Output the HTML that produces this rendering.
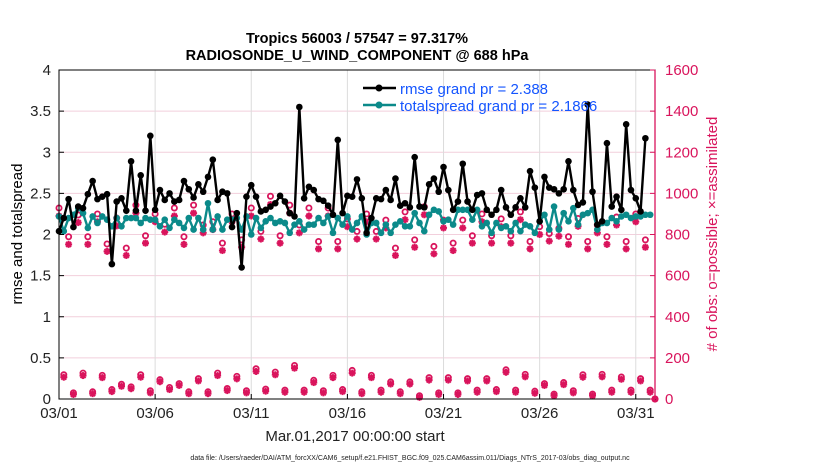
<!DOCTYPE html>
<html><head><meta charset="utf-8"><style>
body{margin:0;background:#fff;}
svg{display:block;font-family:"Liberation Sans",sans-serif;}
</style></head><body>
<svg id="chart" width="830" height="470" viewBox="0 0 830 470" xmlns="http://www.w3.org/2000/svg">
<rect width="830" height="470" fill="#fff"/>
<text x="357" y="43" font-size="14.5" font-weight="bold" text-anchor="middle">Tropics 56003 / 57547 = 97.317%</text>
<text x="357" y="60" font-size="14.5" font-weight="bold" text-anchor="middle">RADIOSONDE_U_WIND_COMPONENT @ 688 hPa</text>
<g id="grid"></g>
<g id="marks"></g>
<g id="axes"></g>
<text transform="translate(22,234) rotate(-90)" font-size="15" text-anchor="middle">rmse and totalspread</text>
<text transform="translate(717,234) rotate(-90)" font-size="15" fill="#d9145c" text-anchor="middle"># of obs: o=possible; ×=assimilated</text>
<text x="355" y="441" font-size="15" fill="#222" text-anchor="middle">Mar.01,2017 00:00:00 start</text>
<text x="410" y="460" font-size="7" fill="#222" text-anchor="middle">data file: /Users/raeder/DAI/ATM_forcXX/CAM6_setup/f.e21.FHIST_BGC.f09_025.CAM6assim.011/Diags_NTrS_2017-03/obs_diag_output.nc</text>
<g id="legend"></g>
</svg>
<script>
const xTickLabels = ["03/01","03/06","03/11","03/16","03/21","03/26","03/31"];
const xTickDays = [0,5,10,15,20,25,30];
const yLeftTicks = [0,0.5,1,1.5,2,2.5,3,3.5,4];
const yRightTicks = [0,200,400,600,800,1000,1200,1400,1600];
const rmse = [2.04,2.2,2.43,2.09,2.34,2.32,2.49,2.65,2.43,2.46,2.49,1.64,2.4,2.44,2.29,2.89,2.29,2.72,2.29,3.2,2.3,2.54,2.42,2.5,2.4,
2.42,2.65,2.55,2.45,2.61,2.52,2.7,2.91,2.42,2.52,2.5,2.09,2.26,1.6,2.46,2.6,2.46,2.28,2.3,2.34,2.38,2.47,2.4,2.26,
2.22,3.55,2.44,2.58,2.54,2.43,2.41,2.35,2.24,3.15,2.26,2.47,2.46,2.67,2.44,2.02,2.2,2.44,2.43,2.54,2.42,2.68,2.35,2.38,
2.33,2.94,2.34,2.33,2.61,2.68,2.52,2.82,2.54,2.3,2.4,2.86,2.4,2.3,2.48,2.5,2.3,2.24,2.3,2.54,2.33,2.24,2.33,2.44,
2.33,2.77,2.57,2.16,2.7,2.57,2.55,2.5,2.55,2.89,2.54,2.36,2.39,3.58,2.52,2.12,2.16,3.11,2.34,2.46,2.3,3.34,2.54,2.44,2.28,3.17];
const spread = [2.22,2.04,2.2,2.24,2.32,2.26,2.08,2.22,2.14,2.22,2.18,2.1,2.2,2.1,2.2,2.2,2.2,2.14,2.2,2.18,2.18,2.1,2.18,2.08,2.18,
2.14,2.08,2.2,2.06,2.2,2.06,2.38,2.06,2.22,2.06,2.18,2.18,2.2,2.06,2.22,2.0,2.2,2.08,2.16,2.2,2.14,2.16,2.14,2.02,
2.12,2.16,2.06,2.12,2.12,2.2,2.14,2.22,2.02,2.2,2.12,2.22,2.06,2.14,2.22,2.0,2.14,2.14,2.02,2.12,2.02,2.12,2.16,2.1,
2.1,2.26,2.14,2.04,2.24,2.3,2.28,2.16,2.18,2.12,2.3,2.3,2.3,2.18,2.3,2.1,2.14,2.02,2.14,2.08,2.1,2.04,2.14,2.04,2.12,
2.1,2.02,2.16,2.24,2.06,2.34,2.06,2.26,2.16,2.32,2.12,2.24,2.26,2.3,2.06,2.14,2.14,2.2,2.16,2.22,2.24,2.2,2.22,2.22,2.24,2.24];
const obsPossible = [929,118,789,30,895,126,789,35,900,115,754,46,880,72,734,59,943,118,794,40,900,94,850,56,929,75,
789,35,943,99,846,35,862,126,758,51,900,110,774,40,929,147,815,48,986,131,794,43,943,163,
846,43,929,91,766,40,929,115,766,46,876,139,815,35,900,115,815,43,870,83,734,35,910,83,
774,16,935,104,742,30,870,104,758,30,870,99,794,43,900,99,794,46,876,142,794,43,910,120,
766,38,838,75,805,24,830,80,789,40,878,118,766,24,846,120,789,43,885,107,766,43,900,99,774,43,0];
const obsAssim = [890,106,752,22,858,114,752,26,862,104,718,36,842,62,698,50,904,106,758,30,862,84,812,46,890,66,
752,26,904,88,808,26,824,114,722,41,862,98,738,30,890,134,778,38,946,118,758,33,904,150,
808,33,890,80,730,30,890,104,730,36,838,126,778,26,862,104,778,33,832,73,698,26,872,73,
738,8,896,92,706,22,832,92,722,22,832,88,758,33,862,88,758,36,838,130,758,33,872,108,
730,28,800,66,768,16,792,70,752,30,840,106,730,16,808,108,752,33,846,96,730,33,862,88,738,33,0];

const X0=59, X1=655, Y0=399, Y1=70, NDAYS=31;
const xDay = d => X0 + d*(X1-X0)/NDAYS;
const xIdx = i => xDay(i*0.25);
const yL = v => Y0 - v*(Y0-Y1)/4;
const yR = v => Y0 - v*(Y0-Y1)/1600;
const NS="http://www.w3.org/2000/svg";
function mk(tag, attrs, parent){const e=document.createElementNS(NS,tag);for(const k in attrs)e.setAttribute(k,attrs[k]);parent.appendChild(e);return e;}
const grid=document.getElementById('grid'), marks=document.getElementById('marks'), axes=document.getElementById('axes'), legend=document.getElementById('legend');
const RED='#d9145c', TEAL='#0b8a8a';

yLeftTicks.forEach(v=>{ if(v>0&&v<4){const l=mk('line',{x1:X0,x2:X1,y1:yL(v),y2:yL(v),stroke:'#f2cfdc','stroke-width':1},grid);

}});
xTickDays.forEach(d=>{ if(d>0){const l=mk('line',{x1:xDay(d),x2:xDay(d),y1:Y1,y2:Y0,stroke:'#dcdcdc','stroke-width':1},grid);

}});

function obsMark(i,v,type){
  const x=xIdx(i);
  if(type==='o'){const c=mk('circle',{cx:x,cy:yR(v),r:2.6,fill:'none',stroke:RED,'stroke-width':1.8},marks);
    
    }
  else{const y=yR(v);const g=mk('g',{stroke:RED,'stroke-width':2},marks);
    
    
    mk('line',{x1:x-3.5,x2:x+3.5,y1:y,y2:y},g);mk('line',{x1:x,x2:x,y1:y-3.5,y2:y+3.5},g);
    mk('line',{x1:x-2.5,x2:x+2.5,y1:y-2.5,y2:y+2.5},g);mk('line',{x1:x-2.5,x2:x+2.5,y1:y+2.5,y2:y-2.5},g);}
}
obsAssim.forEach((v,i)=>obsMark(i,v,'x'));
obsPossible.forEach((v,i)=>obsMark(i,v,'o'));

function series(arr,color,name){
  const p=mk('polyline',{points:arr.map((v,i)=>xIdx(i)+','+yL(v)).join(' '),fill:'none',stroke:color,'stroke-width':2.4,'stroke-linejoin':'round'},marks);
  
  
  arr.forEach((v,i)=>{const c=mk('circle',{cx:xIdx(i),cy:yL(v),r:3.3,fill:color},marks);
    
    });
}
series(spread,TEAL,'totalspread');
series(rmse,'#000','rmse');

// legend (drawn over lines)
[[88,'#000','rmse grand pr = 2.388','legend-rmse'],[105,TEAL,'totalspread grand pr = 2.1866','legend-totalspread']].forEach(e=>{
  mk('line',{x1:363,y1:e[0],x2:396,y2:e[0],stroke:e[1],'stroke-width':2.5},legend);
  mk('circle',{cx:379,cy:e[0],r:3.5,fill:e[1]},legend);
  const t=mk('text',{x:400,y:e[0]+6,'font-size':15,fill:'#1455ff'},legend);t.textContent=e[2];
  
  
});

const box=mk('rect',{x:X0,y:Y1,width:X1-X0,height:Y0-Y1,fill:'none',stroke:'#000','stroke-width':1},axes);


const rax=mk('line',{x1:X1,x2:X1,y1:Y1,y2:Y0,stroke:RED,'stroke-width':1.3},axes);


yLeftTicks.forEach(v=>{mk('line',{x1:X0,x2:X0+5,y1:yL(v),y2:yL(v),stroke:'#000'},axes);
  const t=mk('text',{x:X0-8,y:yL(v)+5,'font-size':15,'text-anchor':'end',fill:'#222'},axes);t.textContent=String(v);
  
  });
yRightTicks.forEach(v=>{mk('line',{x1:X1-5,x2:X1,y1:yR(v),y2:yR(v),stroke:RED},axes);
  const t=mk('text',{x:X1+10,y:yR(v)+5,'font-size':15,fill:RED},axes);t.textContent=String(v);
  
  });
xTickDays.forEach((d,k)=>{mk('line',{x1:xDay(d),x2:xDay(d),y1:Y0,y2:Y0-5,stroke:'#000'},axes);
  const t=mk('text',{x:xDay(d),y:Y0+19,'font-size':15,'text-anchor':'middle',fill:'#222'},axes);t.textContent=xTickLabels[k];
  
  });
</script>
</body></html>
